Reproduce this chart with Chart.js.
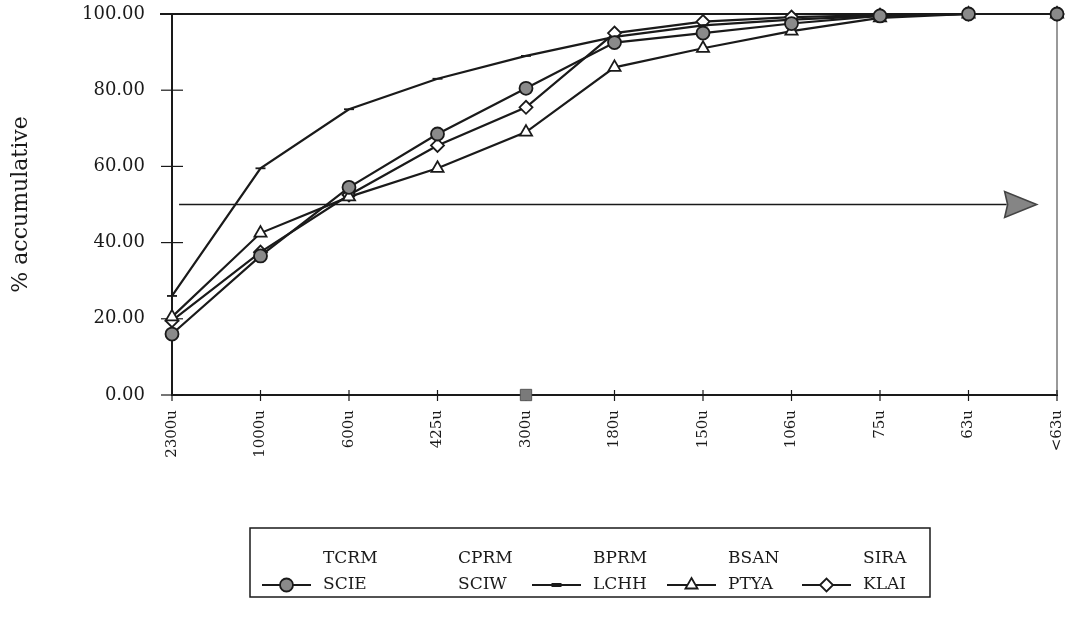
<!DOCTYPE html>
<html>
<head>
<meta charset="utf-8">
<script src="https://cdn.jsdelivr.net/npm/chart.js@4/dist/chart.umd.min.js"></script>
<style>
  html, body { margin: 0; padding: 0; background: #fff; }
  #wrap { width: 1067px; height: 628px; }
</style>
</head>
<body>
<div id="wrap"><canvas id="chart" width="1067" height="628"></canvas></div>
<script>
// sieve sizes
const sizes = ['2300u', '1000u', '600u', '425u', '300u', '180u', '150u', '106u', '75u', '63u', '<63u'];

// % accumulative per sample
const scie = [16, 36.5, 54.5, 68.5, 80.5, 92.5, 95, 97.5, 99.5, 100, 100];
const lchh = [26, 59.5, 75, 83, 89, 94, 97, 98.5, 99.5, 100, 100];
const ptya = [20.5, 42.5, 52, 59.5, 69, 86, 91, 95.5, 99, 100, 100];
const klai = [19.5, 37.5, 52.5, 65.5, 75.5, 95, 98, 99.2, 99.7, 100, 100];
const empty = sizes.map(() => null);
const loneSquare = [null, null, null, null, 0, null, null, null, null, null, null];

// 50% reference arrow (value, from/to in category units)
const arrowLevel = 50;
const arrowFrom = 0.08;
const arrowTo = 9.77;

const yTicks = [0, 20, 40, 60, 80, 100];

const serif = 'DejaVu Serif';
const ink = '#1a1a1a';

function blank(label) {
  return { label: label, data: empty, showLine: false, pointRadius: 0, legendText: true };
}

function series(label, data, style, fill, radius) {
  return {
    label: label,
    data: data,
    borderColor: ink,
    borderWidth: 2.2,
    pointStyle: style,
    pointRadius: radius,
    pointHoverRadius: radius,
    pointBackgroundColor: fill,
    pointBorderColor: ink,
    pointBorderWidth: 1.8,
    tension: 0,
    fill: false,
    clip: false
  };
}

const datasets = [
  blank('TCRM'), blank('CPRM'), blank('BPRM'), blank('BSAN'), blank('SIRA'),
  series('SCIE', scie, 'circle', '#8a8a8a', 6.5),
  blank('SCIW'),
  series('LCHH', lchh, 'line', '#777', 5),
  series('PTYA', ptya, 'triangle', '#fff', 7),
  series('KLAI', klai, 'rectRot', '#fff', 6.5),
  {
    label: '', data: loneSquare, showLine: false, pointStyle: 'rect', pointRadius: 8,
    pointBackgroundColor: '#7a7a7a', pointBorderColor: '#555', pointBorderWidth: 1,
    noLegend: true, clip: false
  }
];

const frame = {
  id: 'frame',
  beforeDatasetsDraw(chart) {
    const {ctx, chartArea: a, scales: {x, y}} = chart;
    ctx.save();
    // top and right border
    ctx.strokeStyle = ink;
    ctx.lineWidth = 2;
    ctx.beginPath();
    ctx.moveTo(a.left - 12, a.top);
    ctx.lineTo(a.right, a.top);
    ctx.stroke();
    ctx.strokeStyle = '#777';
    ctx.lineWidth = 1.5;
    ctx.beginPath();
    ctx.moveTo(a.right, a.top);
    ctx.lineTo(a.right, a.bottom);
    ctx.stroke();
    // tick marks across the axes
    ctx.strokeStyle = ink;
    ctx.lineWidth = 1.2;
    yTicks.forEach(v => {
      const py = y.getPixelForValue(v);
      ctx.beginPath();
      ctx.moveTo(a.left - 11, py);
      ctx.lineTo(a.left + 11, py);
      ctx.stroke();
    });
    sizes.forEach((s, i) => {
      const px = x.getPixelForValue(i);
      ctx.beginPath();
      ctx.moveTo(px, a.bottom - 5);
      ctx.lineTo(px, a.bottom + 6);
      ctx.stroke();
    });
    // 50% arrow
    const ay = y.getPixelForValue(arrowLevel);
    const x0 = x.getPixelForValue(arrowFrom);
    const x1 = x.getPixelForValue(arrowTo);
    ctx.lineWidth = 1.6;
    ctx.beginPath();
    ctx.moveTo(x0, ay);
    ctx.lineTo(x1 - 30, ay);
    ctx.stroke();
    ctx.fillStyle = '#858585';
    ctx.strokeStyle = '#444';
    ctx.beginPath();
    ctx.moveTo(x1, ay);
    ctx.lineTo(x1 - 32, ay - 13);
    ctx.lineTo(x1 - 29, ay);
    ctx.lineTo(x1 - 32, ay + 13);
    ctx.closePath();
    ctx.fill();
    ctx.stroke();
    ctx.restore();
  }
};

const boxLegend = {
  id: 'boxLegend',
  afterDraw(chart) {
    const ctx = chart.ctx;
    const box = {left: 250, top: 528, right: 930, bottom: 597};
    const colStart = 262, colWidth = 135, symbolWidth = 57, rowY = [559, 585];
    ctx.save();
    ctx.strokeStyle = ink;
    ctx.lineWidth = 1.5;
    ctx.strokeRect(box.left, box.top, box.right - box.left, box.bottom - box.top);
    ctx.font = '17px "' + serif + '"';
    ctx.fillStyle = ink;
    ctx.textBaseline = 'middle';
    chart.data.datasets.filter(d => !d.noLegend).forEach((d, i) => {
      const sx = colStart + (i % 5) * colWidth;
      const sy = rowY[Math.floor(i / 5)];
      if (!d.legendText) {
        ctx.strokeStyle = ink;
        ctx.lineWidth = 2;
        ctx.beginPath();
        ctx.moveTo(sx, sy);
        ctx.lineTo(sx + symbolWidth - 8, sy);
        ctx.stroke();
        ctx.fillStyle = d.pointBackgroundColor;
        ctx.strokeStyle = d.pointBorderColor;
        ctx.lineWidth = d.pointStyle === 'line' ? 4 : d.pointBorderWidth;
        Chart.helpers.drawPoint(ctx, {
          pointStyle: d.pointStyle, rotation: 0,
          radius: d.pointRadius, borderWidth: ctx.lineWidth
        }, sx + (symbolWidth - 8) / 2, sy);
        ctx.fillStyle = ink;
      }
      ctx.fillText(d.label, sx + symbolWidth + 4, sy);
    });
    ctx.restore();
  }
};

new Chart(document.getElementById('chart'), {
  type: 'line',
  data: { labels: sizes, datasets: datasets },
  options: {
    responsive: false,
    animation: false,
    layout: { padding: { top: 14, right: 10, left: 0, bottom: 0 } },
    plugins: { legend: { display: false }, tooltip: { enabled: false } },
    scales: {
      x: {
        grid: { display: false },
        border: { color: ink, width: 2 },
        ticks: {
          color: ink, autoSkip: false, maxRotation: 90, minRotation: 90, padding: 7,
          font: { family: serif, size: 15 }
        },
        afterFit(scale) {
          scale.height = 233;
          scale.paddingLeft = 0;
          scale.paddingRight = 0;
        }
      },
      y: {
        min: 0, max: 100,
        grid: { display: false },
        border: { color: ink, width: 2 },
        ticks: {
          color: ink, stepSize: 20, padding: 19,
          font: { family: serif, size: 18 },
          callback: v => v.toFixed(2)
        },
        title: {
          display: true, text: '% accumulative', color: ink,
          font: { family: serif, size: 22 }, padding: { top: 8, bottom: 0 }
        },
        afterFit(scale) {
          scale.width = 172;
          scale.paddingTop = 0;
          scale.paddingBottom = 0;
        }
      }
    }
  },
  plugins: [frame, boxLegend]
});
</script>
</body>
</html>
